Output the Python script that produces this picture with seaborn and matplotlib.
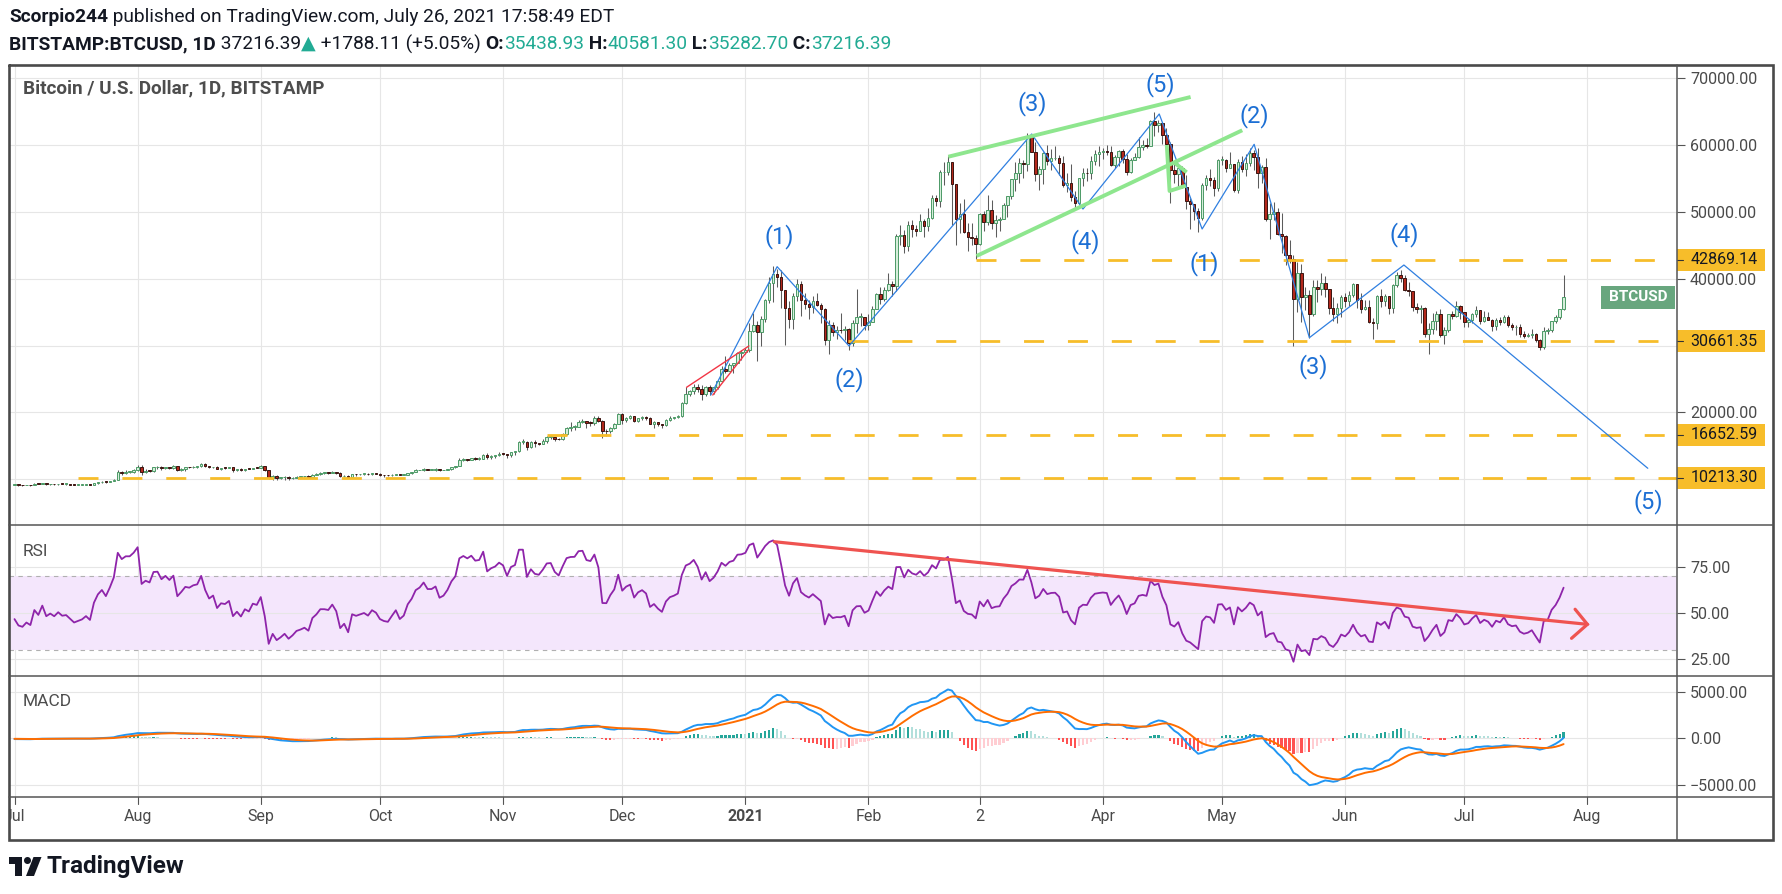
import numpy as np
import pandas as pd
import matplotlib
matplotlib.use("Agg")
import matplotlib.pyplot as plt
import matplotlib.transforms as mtransforms
from matplotlib.patches import Rectangle, Circle, Polygon
from matplotlib.lines import Line2D
import seaborn as sns

sns.set_theme(style="white")
plt.rcParams['font.family'] = ['Roboto', 'DejaVu Sans']

# ---------------- data (thousand USD, daily, BITSTAMP BTCUSD) ----------------
# warm-up closes May 1 - Jun 30 2020 (outside the visible window, for RSI/MACD)
warmup_close_k = [8.83, 8.97, 8.90, 8.88, 9.03, 9.15, 9.99, 9.81, 9.54, 8.72, 8.56, 8.81, 9.31, 9.79, 9.31, 9.38,
                  9.67, 9.73, 9.77, 9.51, 9.06, 9.17, 9.18, 8.72, 8.90, 8.84, 9.20, 9.57, 9.43, 9.70, 9.45,
                  10.20, 9.52, 9.66, 9.80, 9.63, 9.67, 9.75, 9.78, 9.77, 9.87, 9.32, 9.47, 9.48, 9.39, 9.44,
                  9.52, 9.46, 9.39, 9.30, 9.36, 9.29, 9.69, 9.63, 9.29, 9.25, 9.16, 9.01, 9.12, 9.19, 9.14]

# Jul 1 2020 ... Jul 26 2021
close_k = [
    9.23, 9.09, 9.06, 9.13, 9.08, 9.34, 9.25, 9.43, 9.23, 9.28, 9.23, 9.30, 9.24, 9.25, 9.19, 9.13, 9.15, 9.17, 9.21, 9.16, 9.39, 9.53, 9.61, 9.54, 9.70, 9.93, 11.03, 10.93, 11.11, 11.11, 11.35,
    11.81, 11.07, 11.23, 11.19, 11.75, 11.77, 11.60, 11.77, 11.68, 11.89, 11.39, 11.57, 11.79, 11.77, 11.87, 11.91, 12.29, 11.97, 11.75, 11.86, 11.52, 11.68, 11.66, 11.76, 11.34, 11.47, 11.33, 11.54, 11.48, 11.71, 11.68,
    11.92, 11.41, 10.20, 10.52, 10.17, 10.26, 10.37, 10.12, 10.22, 10.35, 10.39, 10.44, 10.33, 10.68, 10.79, 10.95, 10.95, 10.93, 11.08, 10.92, 10.42, 10.53, 10.24, 10.74, 10.69, 10.73, 10.77, 10.70, 10.84, 10.78,
    10.62, 10.57, 10.55, 10.67, 10.79, 10.60, 10.67, 10.92, 11.06, 11.30, 11.38, 11.54, 11.43, 11.43, 11.50, 11.32, 11.37, 11.51, 11.75, 11.92, 12.80, 12.97, 12.93, 13.11, 13.03, 13.07, 13.65, 13.28, 13.46, 13.56, 13.80,
    13.75, 13.55, 14.03, 14.15, 15.59, 15.59, 14.84, 15.48, 15.33, 15.30, 15.70, 16.29, 16.33, 16.07, 15.96, 16.72, 17.65, 17.80, 17.82, 18.62, 18.68, 18.40, 18.37, 19.16, 18.74, 17.15, 17.14, 17.72, 18.18, 19.70,
    18.79, 19.22, 19.43, 18.65, 19.15, 19.36, 19.17, 18.32, 18.55, 18.25, 18.04, 18.80, 19.15, 19.27, 19.44, 21.33, 22.80, 23.13, 23.86, 23.48, 22.73, 23.82, 23.24, 23.73, 24.70, 26.44, 26.24, 27.08, 27.36, 28.89, 28.99,
    29.40, 32.20, 33.00, 31.99, 33.99, 36.82, 39.37, 40.67, 40.24, 38.24, 35.57, 34.00, 37.39, 39.15, 36.77, 36.18, 35.79, 36.63, 36.07, 35.52, 30.83, 33.00, 32.09, 32.28, 32.25, 32.51, 30.40, 33.40, 34.27, 34.32, 33.11,
    33.52, 35.51, 37.66, 36.95, 38.29, 39.26, 38.90, 46.40, 46.48, 44.85, 48.00, 47.41, 47.20, 48.59, 47.90, 49.15, 52.15, 51.68, 55.90, 55.90, 57.49, 54.12, 48.88, 49.70, 47.06, 46.28, 46.11, 45.14,
    49.63, 48.44, 50.35, 48.37, 48.76, 48.88, 50.97, 52.39, 54.90, 55.86, 57.25, 57.23, 61.19, 59.00, 55.64, 56.47, 58.75, 57.67, 58.03, 58.10, 57.35, 54.09, 54.34, 52.30, 51.30, 55.07, 55.84, 55.78, 57.63, 58.73, 58.92,
    59.05, 58.97, 57.09, 58.20, 59.12, 57.99, 56.02, 57.80, 58.15, 59.77, 59.99, 59.86, 63.58, 62.96, 63.34, 61.45, 60.09, 56.25, 55.72, 56.50, 53.80, 51.70, 51.15, 50.11, 49.07, 54.02, 55.04, 54.84, 53.56, 57.75,
    57.83, 56.63, 57.20, 53.24, 57.47, 56.43, 57.36, 58.80, 58.23, 55.86, 56.75, 49.00, 49.70, 49.93, 46.76, 46.43, 43.54, 42.91, 37.00, 40.78, 37.30, 37.53, 34.77, 38.71, 38.49, 39.29, 38.53, 35.68, 34.65, 35.68, 37.33,
    36.69, 37.57, 39.19, 36.87, 35.52, 35.80, 33.59, 33.42, 37.39, 36.69, 37.34, 35.55, 39.10, 40.52, 40.14, 38.35, 38.09, 35.82, 35.48, 35.60, 31.68, 32.51, 33.68, 34.66, 31.59, 32.28, 34.70, 34.49, 35.91, 35.04,
    33.57, 33.80, 34.67, 35.29, 33.69, 34.24, 33.87, 32.88, 33.80, 33.51, 34.26, 33.09, 32.73, 32.82, 31.78, 31.42, 31.53, 31.78, 30.82, 29.79, 32.14, 32.29, 33.60, 34.29, 35.43, 37.21639,
]
high_k = [
    9.29, 9.26, 9.13, 9.19, 9.13, 9.37, 9.36, 9.45, 9.43, 9.30, 9.29, 9.33, 9.34, 9.27, 9.27, 9.20, 9.19, 9.20, 9.23, 9.22, 9.42, 9.54, 9.67, 9.64, 9.73, 10.00, 11.40, 11.24, 11.34, 11.17, 11.45,
    12.08, 12.06, 11.47, 11.42, 11.79, 11.91, 11.91, 11.80, 11.80, 12.07, 11.95, 11.62, 11.80, 11.85, 11.97, 11.96, 12.37, 12.40, 12.00, 11.88, 11.90, 11.69, 11.70, 11.82, 11.77, 11.53, 11.59, 11.56, 11.60, 11.72, 11.79,
    12.07, 11.95, 11.43, 10.64, 10.56, 10.36, 10.40, 10.44, 10.35, 10.50, 10.40, 10.48, 10.58, 10.80, 10.95, 11.10, 11.05, 11.04, 11.18, 11.06, 10.99, 10.56, 10.54, 10.76, 10.77, 10.78, 10.81, 10.95, 10.87, 10.85,
    10.92, 10.65, 10.60, 10.70, 10.80, 10.80, 10.69, 10.95, 11.11, 11.48, 11.43, 11.72, 11.57, 11.55, 11.60, 11.54, 11.40, 11.52, 11.82, 12.00, 13.22, 13.19, 13.02, 13.16, 13.35, 13.24, 13.79, 13.86, 13.64, 13.66, 14.08,
    13.89, 13.82, 14.06, 14.25, 15.76, 15.96, 15.77, 15.65, 15.84, 15.47, 15.96, 16.48, 16.48, 16.33, 16.13, 16.88, 17.86, 18.48, 18.14, 18.80, 18.96, 18.73, 18.77, 19.40, 19.48, 18.91, 17.45, 17.85, 18.34, 19.86,
    19.92, 19.31, 19.56, 19.50, 19.17, 19.41, 19.40, 19.28, 18.63, 18.55, 18.28, 18.94, 19.38, 19.33, 19.56, 21.55, 23.80, 23.27, 24.20, 24.30, 24.08, 23.87, 24.10, 23.80, 24.78, 26.87, 28.40, 27.40, 27.41, 28.99, 29.30,
    29.60, 33.30, 34.80, 33.60, 34.40, 36.90, 40.30, 41.95, 41.40, 41.35, 38.30, 36.60, 37.80, 40.00, 39.70, 37.90, 36.80, 37.40, 37.80, 36.40, 35.60, 33.80, 33.50, 32.90, 34.80, 32.90, 32.60, 33.80, 38.50, 34.90, 34.30,
    34.70, 35.90, 37.80, 38.70, 38.70, 40.90, 39.65, 46.70, 48.10, 47.30, 48.60, 48.80, 48.00, 49.70, 49.00, 50.60, 52.60, 52.50, 56.30, 57.50, 58.35, 57.50, 54.20, 51.40, 52.00, 48.30, 48.40, 46.60,
    49.80, 50.20, 52.60, 51.80, 49.50, 49.20, 51.40, 52.40, 54.90, 57.40, 58.00, 57.80, 61.78, 61.60, 60.50, 56.90, 58.90, 60.00, 59.40, 59.80, 58.50, 58.40, 55.80, 57.20, 53.20, 55.10, 56.60, 56.50, 58.40, 59.30, 59.80,
    59.50, 60.00, 59.80, 58.50, 59.20, 59.40, 58.70, 58.10, 58.80, 61.20, 60.70, 61.10, 63.70, 64.90, 63.80, 63.50, 62.50, 60.40, 57.50, 57.00, 56.80, 55.50, 52.10, 51.20, 50.60, 54.30, 55.50, 56.40, 55.20, 57.90,
    58.40, 57.90, 58.90, 57.20, 57.90, 58.30, 58.60, 59.50, 59.20, 59.60, 57.00, 58.00, 51.30, 51.50, 50.60, 49.80, 46.50, 45.80, 43.50, 42.50, 42.20, 38.80, 38.30, 39.80, 39.80, 40.80, 40.40, 38.20, 37.30, 36.40, 37.50,
    37.90, 38.20, 39.40, 39.20, 37.90, 36.80, 36.80, 34.10, 37.50, 38.40, 37.70, 37.40, 39.20, 41.00, 41.30, 40.50, 39.50, 38.20, 36.40, 36.10, 35.70, 33.30, 34.80, 35.20, 35.50, 32.70, 34.70, 35.20, 36.60, 36.00,
    35.05, 33.90, 34.90, 35.90, 35.30, 35.10, 35.00, 33.90, 34.10, 34.30, 34.60, 34.60, 33.30, 33.10, 33.20, 32.20, 31.90, 32.40, 31.90, 31.00, 32.80, 32.60, 33.60, 34.50, 35.45, 40.58,
]
low_k = [
    9.09, 8.95, 9.04, 9.05, 8.95, 9.06, 9.21, 9.23, 9.14, 9.12, 9.19, 9.16, 9.20, 9.11, 9.16, 9.06, 9.09, 9.13, 9.11, 9.14, 9.15, 9.29, 9.46, 9.44, 9.52, 9.65, 9.90, 10.58, 10.83, 10.85, 10.98,
    11.22, 10.60, 10.95, 11.00, 11.10, 11.58, 11.38, 11.53, 11.53, 11.48, 11.15, 11.16, 11.28, 11.66, 11.69, 11.69, 11.82, 11.82, 11.62, 11.67, 11.50, 11.37, 11.53, 11.60, 11.13, 11.27, 11.15, 11.28, 11.45, 11.45, 11.60,
    11.62, 11.21, 10.09, 9.93, 9.88, 10.03, 9.88, 9.90, 10.00, 10.21, 10.20, 10.30, 10.21, 10.28, 10.64, 10.68, 10.74, 10.83, 10.89, 10.80, 10.36, 10.37, 10.14, 10.20, 10.53, 10.65, 10.63, 10.66, 10.65, 10.70,
    10.46, 10.38, 10.51, 10.53, 10.61, 10.54, 10.58, 10.54, 10.83, 11.06, 11.29, 11.22, 11.29, 11.30, 11.27, 11.23, 11.30, 11.35, 11.41, 11.70, 11.91, 12.68, 12.74, 12.90, 12.90, 12.80, 13.06, 12.95, 12.99, 13.13, 13.43,
    13.62, 13.20, 13.29, 13.54, 14.09, 15.20, 14.35, 14.71, 14.84, 15.09, 15.27, 15.46, 15.96, 15.72, 15.83, 15.88, 16.56, 17.23, 17.39, 17.77, 18.37, 17.65, 18.00, 18.05, 18.53, 16.20, 16.48, 16.90, 17.55, 18.18,
    18.32, 18.51, 18.95, 18.58, 18.51, 18.92, 18.92, 18.20, 17.61, 17.95, 17.60, 18.02, 18.74, 19.00, 19.08, 19.29, 21.24, 22.38, 22.76, 23.05, 21.90, 22.37, 22.60, 22.70, 23.42, 24.50, 25.85, 26.11, 25.88, 27.32, 27.87,
    28.80, 29.00, 32.00, 27.70, 29.90, 33.50, 36.40, 36.50, 38.70, 35.60, 30.10, 32.60, 32.40, 36.70, 34.40, 35.40, 33.90, 34.80, 35.90, 33.40, 30.10, 28.80, 31.40, 30.90, 31.90, 30.80, 29.30, 30.00, 31.90, 32.90, 32.30,
    32.30, 33.45, 35.40, 36.20, 36.60, 38.20, 37.40, 38.10, 45.00, 43.80, 44.20, 46.30, 46.40, 47.10, 46.30, 47.10, 48.95, 50.90, 50.70, 54.00, 55.50, 48.00, 45.00, 46.90, 46.80, 44.20, 45.10, 43.00,
    45.10, 47.10, 48.10, 47.50, 46.30, 47.10, 48.90, 49.30, 51.90, 53.10, 54.30, 55.10, 56.10, 58.90, 54.60, 53.30, 54.20, 57.00, 56.30, 57.80, 55.50, 53.70, 53.00, 51.70, 50.40, 51.20, 53.90, 54.70, 54.90, 57.00, 56.90,
    57.95, 58.45, 56.90, 56.50, 56.80, 57.30, 55.50, 55.80, 57.70, 58.00, 59.20, 59.50, 59.80, 61.30, 62.00, 60.10, 59.60, 51.30, 54.30, 53.50, 53.60, 50.50, 47.50, 48.80, 47.00, 48.80, 53.30, 53.90, 52.40, 53.10,
    57.00, 56.00, 56.50, 53.00, 52.90, 55.90, 55.40, 56.90, 56.30, 53.60, 54.40, 48.60, 46.00, 48.80, 46.60, 43.80, 42.10, 42.30, 30.00, 35.00, 33.50, 35.30, 31.10, 34.40, 36.50, 37.60, 37.20, 34.70, 33.60, 33.40, 34.20,
    35.70, 35.90, 37.20, 35.60, 34.80, 35.30, 33.40, 31.00, 32.40, 35.80, 35.90, 34.70, 34.80, 38.80, 39.50, 38.10, 37.40, 35.10, 34.80, 33.40, 31.30, 28.80, 31.70, 32.30, 31.30, 30.20, 32.00, 33.90, 34.25, 34.00,
    32.70, 32.70, 33.30, 34.30, 33.20, 33.50, 33.80, 32.10, 32.30, 33.10, 33.30, 32.70, 32.30, 31.60, 31.20, 31.10, 31.20, 31.10, 30.50, 29.30, 29.50, 31.70, 32.00, 33.40, 33.90, 35.28,
]

# x-axis month labels (day index from Jul 1 2020)
month_days = [0, 31, 62, 92, 123, 153, 184, 215, 243, 274, 304, 335, 365, 396]
month_labels = ["Jul", "Aug", "Sep", "Oct", "Nov", "Dec", "2021", "Feb", "2", "Apr", "May", "Jun", "Jul", "Aug"]

# horizontal support / resistance levels
levels = [42869.14, 30661.35, 16652.59, 10213.30]
level_start = [242.0, 209.8, 134.0, 16.0]

# Elliott wave path (day, price)
wave_day = [175.3, 192.0, 210.1, 256.1, 269.0, 288.2, 299.0, 312.1, 326.0, 349.8, 411.2]
wave_price = [22590, 41800, 29930, 61660, 50430, 64655, 47440, 60120, 31170, 42050, 11620]
wave_text = ["(1)", "(2)", "(3)", "(4)", "(5)", "(2)", "(1)", "(3)", "(4)", "(5)"]
wave_text_day = [192.5, 210.3, 256.3, 269.5, 288.4, 312.1, 299.5, 326.9, 349.8, 411.3]
wave_text_price = [46290, 24840, 66260, 45540, 69000, 64500, 42300, 26780, 46540, 6570]

# rising wedge (red) and channel (green)
red_upper = ([169.2, 184.9], [23740, 29930])
red_lower = ([175.8, 184.9], [22590, 29430])
green_upper = ([235.1, 296.1], [58260, 67200])
green_lower = ([242.2, 309.1], [43400, 62220])
green_small = ([290.1, 290.8, 294.9], [60015, 53130, 53920])
green_small2 = ([291.7, 295.1], [57520, 55930])

# RSI trend line with arrow (day, rsi)
rsi_trend = ([191.3, 396.0], [88.9, 44.0])
rsi_arrow = ([392.9, 396.0, 392.0], [52.2, 44.0, 36.4])

# ---------------- derived series ----------------
close = np.array(close_k) * 1000.0
high = np.array(high_k) * 1000.0
low = np.array(low_k) * 1000.0
n = len(close)
days = np.arange(n)
open_ = np.r_[warmup_close_k[-1] * 1000.0, close[:-1]]
high = np.maximum(high, np.maximum(open_, close))
low = np.minimum(low, np.minimum(open_, close))

full = pd.Series(np.r_[np.array(warmup_close_k) * 1000.0, close])
delta = full.diff().fillna(0)
ag = delta.clip(lower=0).ewm(alpha=1 / 14, adjust=False).mean()
al = (-delta).clip(lower=0).ewm(alpha=1 / 14, adjust=False).mean()
rsi = (100 - 100 / (1 + ag / al)).to_numpy()[-n:]
ema12 = full.ewm(span=12, adjust=False).mean()
ema26 = full.ewm(span=26, adjust=False).mean()
macd_full = ema12 - ema26
sig_full = macd_full.ewm(span=9, adjust=False).mean()
hist_full = (macd_full - sig_full).to_numpy()
macd = macd_full.to_numpy()[-n:]
sig = sig_full.to_numpy()[-n:]
hist = hist_full[-n:]
hist_prev = hist_full[-n - 1:-1]
hist_col = np.where(hist >= 0,
                    np.where(hist >= hist_prev, '#26a69a', '#b2dfdb'),
                    np.where(hist >= hist_prev, '#ffcdd2', '#ff5252'))

# ---------------- figure layout (pixel based) ----------------
W, H = 1783, 894
fig = plt.figure(figsize=(W / 100, H / 100), dpi=100)
fig.patch.set_facecolor('white')
PX = mtransforms.Affine2D().scale(1 / W, -1 / H).translate(0, 1) + fig.transFigure

X0, XR, XE = 9.0, 1676.7, 1773.0
Y0, Y1, Y2, Y3, Y4 = 65.0, 525.0, 676.0, 796.7, 840.0
PXD, DAY0 = 3.972, 14.5
xlim = ((X0 - DAY0) / PXD, (XR - DAY0) / PXD)


def add_ax(yt, yb):
    a = fig.add_axes([X0 / W, 1 - yb / H, (XR - X0) / W, (yb - yt) / H])
    a.set_facecolor('none')
    for s in a.spines.values():
        s.set_visible(False)
    a.set_xlim(*xlim)
    a.set_xticks([])
    a.yaxis.tick_right()
    a.tick_params(axis='y', which='both', right=True, left=False, labelright=True, labelleft=False,
                  direction='out', length=5.5, width=0.8, color='#555555', pad=4,
                  labelsize=11.5, labelcolor='#4a4a4a')
    return a


ax_p = add_ax(Y0, Y1)
ax_r = add_ax(Y1, Y2)
ax_m = add_ax(Y2, Y3)
ax_t = add_ax(Y3, Y4)

GRID = '#e6e6e6'
for a in (ax_p, ax_r, ax_m):
    for d in month_days:
        a.axvline(d, color=GRID, lw=0.8, zorder=0)

# ---- price pane ----
ax_p.set_ylim(3129, 71991)
for v in range(10000, 70001, 10000):
    ax_p.axhline(v, color=GRID, lw=0.8, zorder=0)
pticks = [20000, 40000, 50000, 60000, 70000]
ax_p.set_yticks(pticks)
ax_p.set_yticklabels([f"{v:.2f}" for v in pticks])

up = close >= open_
body_lo = np.minimum(open_, close)
body_h = np.maximum(np.abs(close - open_), 110)
ax_p.vlines(days, low, high, color='#5c5c5c', lw=0.75, zorder=2)
ax_p.bar(days[up], body_h[up], bottom=body_lo[up], width=0.64, color='#d6eedb',
         edgecolor='#4c9a66', linewidth=0.7, zorder=3)
ax_p.bar(days[~up], body_h[~up], bottom=body_lo[~up], width=0.64, color='#b3281c',
         edgecolor='#3a1410', linewidth=0.7, zorder=3)

ORANGE = '#f7bd2a'
for lv, st in zip(levels, level_start):
    ax_p.plot([st, xlim[1]], [lv, lv], color=ORANGE, lw=2.0, linestyle=(0, (7.2, 8.6)),
              solid_capstyle='butt', dash_capstyle='butt', zorder=5)

BLUE_LINE = '#2f7fe0'
ax_p.plot(wave_day, wave_price, color=BLUE_LINE, lw=0.9, zorder=6)
ax_p.plot(*red_upper, color='#f23645', lw=1.0, zorder=6)
ax_p.plot(*red_lower, color='#f23645', lw=1.0, zorder=6)
GREEN = '#8ee68e'
for seg in (green_upper, green_lower, green_small, green_small2):
    ax_p.plot(*seg, color=GREEN, lw=2.8, solid_capstyle='butt', zorder=6)

for t, d, p in zip(wave_text, wave_text_day, wave_text_price):
    ax_p.text(d, p, t, color='#1c6fd4', fontsize=17, ha='center', va='center', zorder=8,
              clip_on=False)

# price-axis labels
blend_p = mtransforms.blended_transform_factory(ax_p.transAxes, ax_p.transData)
axw = XR - X0
ppk = (Y1 - Y0) / (71991 - 3129)  # pixels per price unit
for lv in levels:
    hgt = 22 / ppk
    ax_p.add_patch(Rectangle((0.0 + 1.0, lv - hgt / 2), 88.6 / axw, hgt, transform=blend_p,
                             facecolor=ORANGE, edgecolor='none', clip_on=False, zorder=9))
    ax_p.plot([1.0, 1.0 + 6 / axw], [lv, lv], transform=blend_p, color='#333333', lw=0.8,
              clip_on=False, zorder=10)
    ax_p.text(1.0 + 13.5 / axw, lv, f"{lv:.2f}", transform=blend_p, fontsize=11.5, color='#131722',
              ha='left', va='center', clip_on=False, zorder=10)

# last price tag
last = close[-1]
hgt = 23.3 / ppk
ax_p.add_patch(Rectangle(((1601 - X0) / axw, last - hgt / 2), 74 / axw, hgt, transform=blend_p,
                         facecolor='#68a67e', edgecolor='none', clip_on=False, zorder=9))
ax_p.text((1638 - X0) / axw, last, "BTCUSD", transform=blend_p, fontsize=11, color='white',
          fontweight='bold', ha='center', va='center', zorder=10)

# ---- RSI pane ----
ax_r.set_ylim(15.92, 97.99)
ax_r.axhspan(30, 70, color='#f4e6fc', zorder=0, lw=0)
for v in (25, 50, 75):
    ax_r.axhline(v, color=GRID, lw=0.8, zorder=0.5)
for v in (30, 70):
    ax_r.axhline(v, color='#b0b0b0', lw=0.8, linestyle=(0, (4, 4)), zorder=0.6)
ax_r.set_yticks([25, 50, 75])
ax_r.set_yticklabels(["25.00", "50.00", "75.00"])
sns.lineplot(x=days, y=rsi, ax=ax_r, color='#8e24aa', linewidth=1.3, estimator=None, sort=False,
             legend=False, zorder=3)
ax_r.plot(*rsi_trend, color='#ef5350', lw=2.3, solid_capstyle='round', zorder=4)
ax_r.plot(*rsi_arrow, color='#ef5350', lw=2.3, solid_capstyle='round', solid_joinstyle='miter',
          zorder=4, clip_on=False)
ax_r.set_xlim(*xlim)
ax_r.set_xlabel('')
ax_r.set_ylabel('')

# ---- MACD pane ----
ax_m.set_ylim(-6280, 6699)
for v in (-5000, 0, 5000):
    ax_m.axhline(v, color=GRID, lw=0.8, zorder=0)
ax_m.set_yticks([-5000, 0, 5000])
ax_m.set_yticklabels(["\u22125000.00", "0.00", "5000.00"])
ax_m.bar(days, hist, width=0.55, color=hist_col, zorder=2, linewidth=0)
sns.lineplot(x=days, y=macd, ax=ax_m, color='#2196f3', linewidth=1.4, estimator=None, sort=False,
             legend=False, zorder=3)
sns.lineplot(x=days, y=sig, ax=ax_m, color='#ff6d00', linewidth=1.4, estimator=None, sort=False,
             legend=False, zorder=3)
ax_m.set_xlim(*xlim)
ax_m.set_xlabel('')
ax_m.set_ylabel('')

# ---- time axis strip ----
ax_t.set_ylim(0, 1)
ax_t.set_yticks([])
ax_t.tick_params(axis='y', right=False, labelright=False)
sh = Y4 - Y3
for d, lab in zip(month_days, month_labels):
    ax_t.plot([d, d], [1, 1 - 7 / sh], color='#555555', lw=0.8)
    ax_t.text(d, 1 - (816.7 - Y3) / sh, lab, ha='center', va='center', fontsize=11.5,
              color='#4a4a4a', fontweight='bold' if lab == '2021' else 'normal', clip_on=True)


# ---------------- frame & separators ----------------
def px_line(xs, ys, **kw):
    fig.add_artist(Line2D(xs, ys, transform=PX, **kw))


px_line([X0, XE, XE, X0, X0], [Y0, Y0, Y4, Y4, Y0], color='#4a4a4a', lw=1.9,
        solid_joinstyle='miter', zorder=20)
for y in (Y1, Y2, Y3):
    px_line([X0, XE], [y, y], color='#555555', lw=1.1, zorder=20)
px_line([XR, XR], [Y0, Y4], color='#555555', lw=1.1, zorder=20)

# ---------------- texts ----------------
renderer = fig.canvas.get_renderer()


def run_text(x, y, parts, size):
    for s, color, weight in parts:
        t = fig.text(x, y, s, transform=PX, fontsize=size, color=color, fontweight=weight,
                     ha='left', va='center')
        x += t.get_window_extent(renderer).width


DARK = '#131722'
TEAL = '#22ab94'
run_text(9, 17, [("Scorpio244", DARK, 'bold'),
                 (" published on TradingView.com, July 26, 2021 17:58:49 EDT", DARK, 'normal')], 13.8)
run_text(9, 44, [("BITSTAMP:BTCUSD, 1D", DARK, 'bold'), (" 37216.39", DARK, 'normal'),
                 ("\u25b2", TEAL, 'normal'), (" +1788.11 (+5.05%) ", DARK, 'normal'),
                 ("O:", DARK, 'bold'), ("35438.93", TEAL, 'normal'),
                 (" H:", DARK, 'bold'), ("40581.30", TEAL, 'normal'),
                 (" L:", DARK, 'bold'), ("35282.70", TEAL, 'normal'),
                 (" C:", DARK, 'bold'), ("37216.39", TEAL, 'normal')], 13.8)

fig.text(23, 88, "Bitcoin / U.S. Dollar, 1D, BITSTAMP", transform=PX, fontsize=13.6, color='#4d4d4d',
         fontweight='bold', ha='left', va='center')
fig.text(23, 551, "RSI", transform=PX, fontsize=12.5, color='#4d4d4d', ha='left', va='center')
fig.text(23, 702, "MACD", transform=PX, fontsize=12.5, color='#4d4d4d', ha='left', va='center')

# TradingView logo
fig.add_artist(Polygon([(9, 857), (22, 857), (22, 876), (15.5, 876), (15.5, 863.5), (9, 863.5)],
                       closed=True, transform=PX, facecolor=DARK, edgecolor='none'))
fig.add_artist(Circle((27.5, 860.5), 3.5, transform=PX, facecolor=DARK, edgecolor='none'))
fig.add_artist(Polygon([(33.5, 857), (41.5, 857), (34, 876), (26, 876)], closed=True, transform=PX,
                       facecolor=DARK, edgecolor='none'))
fig.text(47, 867, "TradingView", transform=PX, fontsize=17.5, color=DARK, fontweight='bold',
         ha='left', va='center')

fig.savefig('out.png', dpi=100)
